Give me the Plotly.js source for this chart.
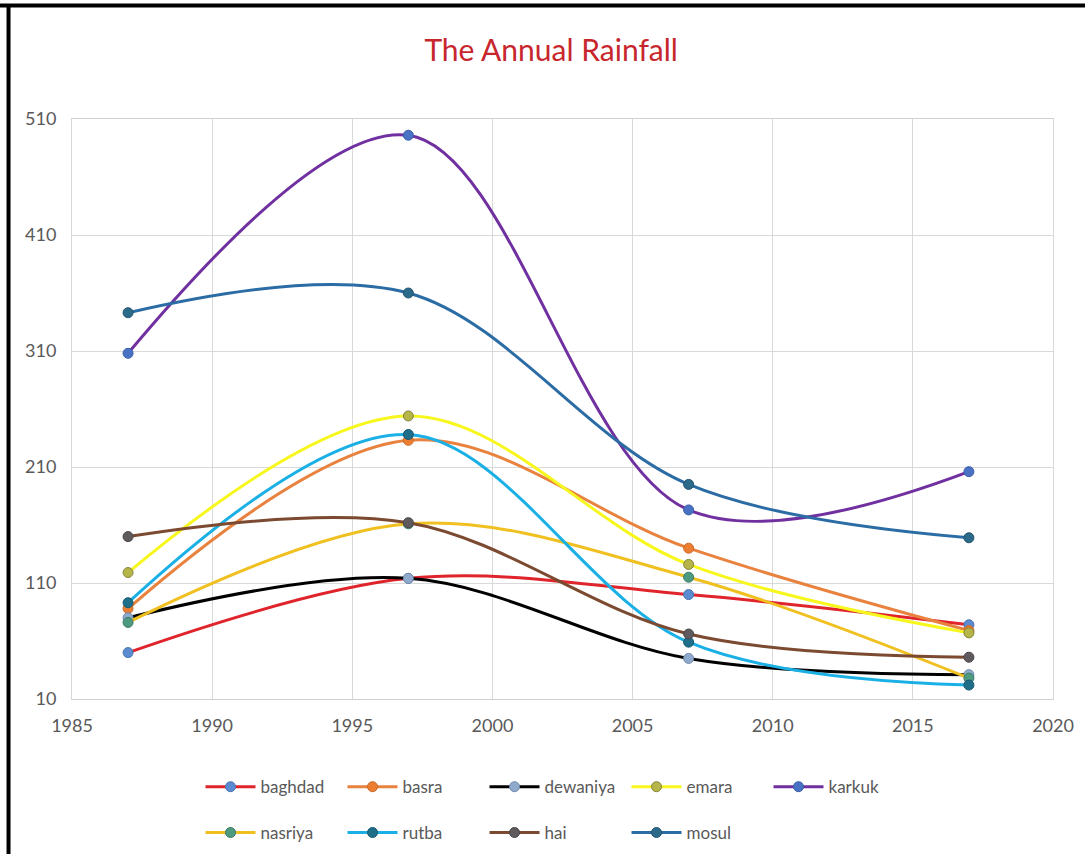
<!DOCTYPE html>
<html>
<head>
<meta charset="utf-8">
<script src="https://cdn.plot.ly/plotly-3.0.1.min.js"></script>
<style>
html,body{margin:0;padding:0;background:#fff;}
#chart{width:1085px;height:854px;}
</style>
</head>
<body>
<div id="chart"></div>
<script>
var years = [1987, 1997, 2007, 2017];

var baghdad  = [50, 114, 100, 74];
var basra    = [88, 233, 140, 69];
var dewaniya = [80, 114, 45, 31];
var emara    = [119, 254, 126, 67];
var karkuk   = [308, 496, 173, 206];
var nasriya  = [76, 161, 115, 28];
var rutba    = [93, 238, 59, 22];
var hai      = [150, 162, 66, 46];
var mosul    = [343, 360, 195, 149];

var seriesNames = ['baghdad','basra','dewaniya','emara','karkuk','nasriya','rutba','hai','mosul'];
var seriesData  = [baghdad, basra, dewaniya, emara, karkuk, nasriya, rutba, hai, mosul];
var lineColors  = ['#e0242b','#e8823e','#000000','#f7f71e','#7030a0','#f0c020','#1ab0e6','#7b4a30','#2b6ca5'];
var markerColors= ['#5b8bd0','#ed7d31','#8faacc','#b5b54a','#4a72c4','#4e9a80','#1f6f8b','#5f5a5e','#2c6a8a'];
var markerLines = ['#4a74b0','#c86a2a','#6f8aab','#85853a','#3a5ea8','#3c7a64','#17586f','#4a4548','#22536d'];

var fontFam = 'Lato, "Open Sans", sans-serif';

var traces = seriesNames.map(function(n, i){
  return {
    x: years, y: seriesData[i], name: n, type: 'scatter', mode: 'lines+markers',
    line: {color: lineColors[i], width: 3, shape: 'spline', smoothing: 1},
    marker: {color: markerColors[i], size: 10, line: {color: markerLines[i], width: 1}},
    legend: i < 5 ? 'legend' : 'legend2'
  };
});

var legendCommon = {
  orientation: 'h', xanchor: 'left', yanchor: 'middle',
  entrywidth: 77, entrywidthmode: 'pixels', itemwidth: 50,
  font: {family: fontFam, size: 17, color: '#595959'},
  bgcolor: 'rgba(0,0,0,0)', itemclick: false, itemdoubleclick: false
};

var layout = {
  width: 1085, height: 854,
  margin: {l: 72, r: 32, t: 119, b: 155, autoexpand: false},
  paper_bgcolor: '#ffffff', plot_bgcolor: '#ffffff',
  title: {text: 'The Annual Rainfall', font: {family: fontFam, size: 30, color: '#c8262d'},
          x: 0.508, xref: 'container', xanchor: 'center', y: 0.941, yref: 'container', yanchor: 'middle'},
  xaxis: {range: [1985, 2020], tick0: 1985, dtick: 5, showgrid: true, gridcolor: '#d9d9d9', gridwidth: 1,
          showline: true, mirror: true, linecolor: '#d0d0d0', linewidth: 1, zeroline: false,
          ticks: '', ticklabelstandoff: 10,
          tickfont: {family: fontFam, size: 18, color: '#595959'}},
  yaxis: {range: [10, 510], tick0: 10, dtick: 100, showgrid: true, gridcolor: '#d9d9d9', gridwidth: 1,
          showline: true, mirror: true, linecolor: '#d9d9d9', linewidth: 1, zeroline: false,
          ticks: '', ticklabelstandoff: 11,
          tickfont: {family: fontFam, size: 18, color: '#595959'}},
  legend: Object.assign({}, legendCommon, {x: 0.131, y: -0.152}),
  legend2: Object.assign({}, legendCommon, {x: 0.131, y: -0.231}),
  shapes: [
    {type: 'line', xref: 'paper', yref: 'paper', x0: -0.08, x1: 1.04, y0: 1.1957, y1: 1.1957, line: {color: '#000', width: 4}},
    {type: 'line', xref: 'paper', yref: 'paper', x0: -0.0647, x1: -0.0647, y0: -0.3, y1: 1.1983, line: {color: '#000', width: 4}}
  ],
  showlegend: true
};

Plotly.newPlot('chart', traces, layout, {displayModeBar: false, staticPlot: true});
</script>
</body>
</html>
